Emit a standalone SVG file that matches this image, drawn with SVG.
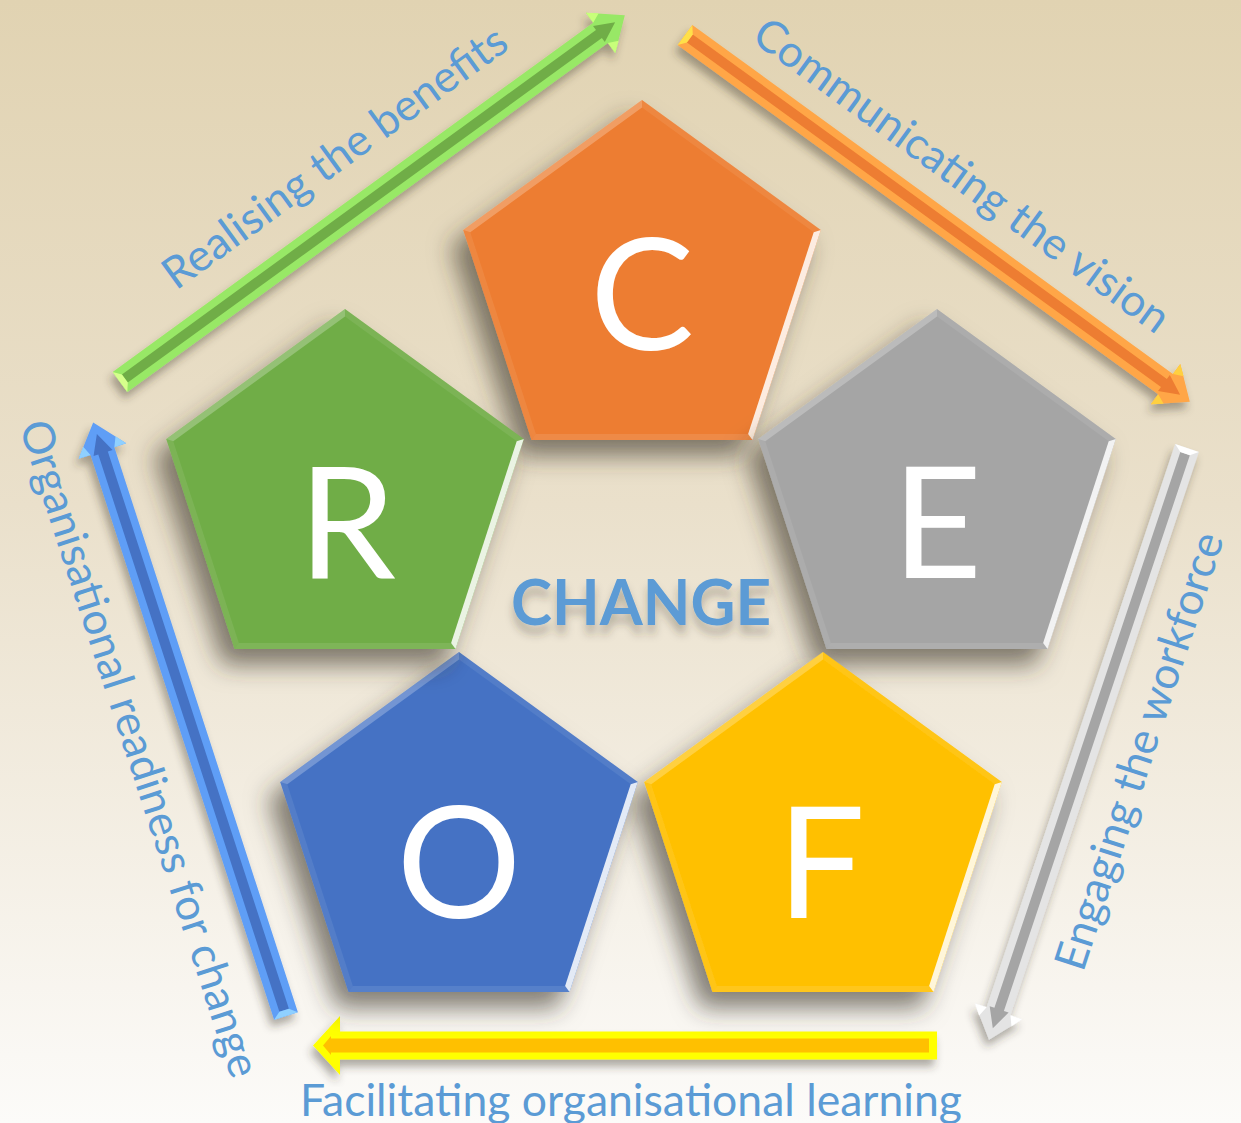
<svg xmlns="http://www.w3.org/2000/svg" width="1241" height="1123" viewBox="0 0 1241 1123">
<style>
.lbl{font-family:Lato,"Open Sans","Liberation Sans",sans-serif;font-size:44px;fill:#5B9BD5}
.letter{font-family:Lato,"Open Sans","Liberation Sans",sans-serif;font-size:156px;fill:#FFFFFF;text-anchor:middle}
.center{font-family:Lato,"Open Sans","Liberation Sans",sans-serif;font-weight:700;font-size:64px;fill:#5B9BD5;text-anchor:middle}
.hl-rl{fill:#FFFFFF;fill-opacity:0.85}
.hl-tl{fill:#FFFFFF;fill-opacity:0.25}
.hl-tr{fill:#FFFFFF;fill-opacity:0.08}
.hl-ll{fill:#FFFFFF;fill-opacity:0.08}
.hl-b{fill:#FFFFFF;fill-opacity:0.1}
</style>
<defs>
<linearGradient id="bg" x1="0" y1="0" x2="0" y2="1">
<stop offset="0" stop-color="#E1D3B2"/>
<stop offset="0.45" stop-color="#EAE0CB"/>
<stop offset="1" stop-color="#FCFBF9"/>
</linearGradient>
<filter id="pshadow" x="-30%" y="-30%" width="160%" height="160%">
<feGaussianBlur in="SourceAlpha" stdDeviation="12"/>
<feOffset dx="-12" dy="16" result="b"/>
<feFlood flood-color="#3a3428" flood-opacity="0.62"/>
<feComposite in2="b" operator="in"/>
<feMerge><feMergeNode/><feMergeNode in="SourceGraphic"/></feMerge>
</filter>
<filter id="ashadow" x="-20%" y="-20%" width="140%" height="140%">
<feGaussianBlur in="SourceAlpha" stdDeviation="4"/>
<feOffset dx="-3" dy="7" result="b"/>
<feFlood flood-color="#3a3428" flood-opacity="0.4"/>
<feComposite in2="b" operator="in"/>
<feMerge><feMergeNode/><feMergeNode in="SourceGraphic"/></feMerge>
</filter>
<filter id="tshadow" x="-20%" y="-40%" width="140%" height="180%">
<feGaussianBlur in="SourceAlpha" stdDeviation="4"/>
<feOffset dx="0" dy="9" result="b"/>
<feFlood flood-color="#3a3428" flood-opacity="0.3"/>
<feComposite in2="b" operator="in"/>
<feMerge><feMergeNode/><feMergeNode in="SourceGraphic"/></feMerge>
</filter>
<path id="pent" d="M0,-188 L178.8,-58.1 L110.5,152.1 L-110.5,152.1 L-178.8,-58.1 Z"/>
<path id="p-rl" d="M178.8,-58.1 L110.5,152.1 L106.1,146.1 L171.7,-55.8 Z"/>
<path id="p-tl" d="M-178.8,-58.1 L0,-188 L0,-180.6 L-171.7,-55.8 Z"/>
<path id="p-tr" d="M0,-188 L178.8,-58.1 L171.7,-55.8 L0,-180.6 Z"/>
<path id="p-ll" d="M-110.5,152.1 L-178.8,-58.1 L-171.7,-55.8 L-106.1,146.1 Z"/>
<path id="p-b" d="M110.5,152.1 L-110.5,152.1 L-106.1,146.1 L106.1,146.1 Z"/>
<path id="a-out" d="M0,-12.5 L594,-12.5 L594,-25 L624,0 L594,25 L594,12.5 L0,12.5 Z"/>
<path id="a-in" d="M6,-5 L592,-5 L592,-10 L612,0 L592,10 L592,5 L6,5 Z"/>
<path id="a-tail" d="M0,-12.5 L6,-5 L6,5 L0,12.5 Z"/>
<path id="a-head" d="M594,-25 L604,-17 L594,-12.5 Z M594,25 L604,17 L594,12.5 Z"/>
</defs>

<rect x="0" y="0" width="1241" height="1123" fill="url(#bg)"/>

<g id="connectors">
  <g id="arrow-realising" filter="url(#ashadow)">
    <g transform="translate(120,382) rotate(-36)">
      <use href="#a-out" fill="#98E866"/>
      <use href="#a-in" fill="#70AD47"/>
      <use href="#a-tail" fill="#D6FF8C"/>
      <use href="#a-head" fill="#C8FF7A"/>
    </g>
  </g>
  <text class="lbl" transform="translate(176,291) rotate(-36)" textLength="414" lengthAdjust="spacingAndGlyphs">Realising the benefits</text>

  <g id="arrow-communicating" filter="url(#ashadow)">
    <g transform="translate(685,35) rotate(36)">
      <use href="#a-out" fill="#FFA646"/>
      <use href="#a-in" fill="#ED7D31"/>
      <use href="#a-tail" fill="#FFE04A"/>
      <use href="#a-head" fill="#FFD040"/>
    </g>
  </g>
  <text class="lbl" transform="translate(750,40) rotate(36)" textLength="502" lengthAdjust="spacingAndGlyphs">Communicating the vision</text>

  <g id="arrow-engaging" filter="url(#ashadow)">
    <g transform="translate(1187,448) rotate(108.5)">
      <use href="#a-out" fill="#E4E4E4"/>
      <use href="#a-in" fill="#A5A5A5"/>
      <use href="#a-tail" fill="#FFFFFF"/>
      <use href="#a-head" fill="#FFFFFF"/>
    </g>
  </g>
  <text class="lbl" transform="translate(1083,973) rotate(-72)" textLength="457" lengthAdjust="spacingAndGlyphs">Engaging the workforce</text>

  <g id="arrow-facilitating" filter="url(#ashadow)">
    <path d="M937,1031.5 L340,1031.5 L340,1016 L313,1045.5 L340,1075 L340,1059.5 L937,1059.5 Z" fill="#FFFF00"/>
    <path d="M929,1038.5 L331,1038.5 L331,1036 L323,1045.5 L331,1055 L331,1052.5 L929,1052.5 Z" fill="#FFC000"/>
  </g>
  <text class="lbl" x="300" y="1116" textLength="662" lengthAdjust="spacingAndGlyphs">Facilitating organisational learning</text>

  <g id="arrow-organisational" filter="url(#ashadow)">
    <g transform="translate(286,1016) rotate(-108)">
      <use href="#a-out" fill="#5E9EF6"/>
      <use href="#a-in" fill="#4472C4"/>
      <use href="#a-tail" fill="#8FD0FF"/>
      <use href="#a-head" fill="#8FD0FF"/>
    </g>
  </g>
  <text class="lbl" transform="translate(19,426) rotate(72)" textLength="688" lengthAdjust="spacingAndGlyphs">Organisational readiness for change</text>
</g>

<g id="node-C" filter="url(#pshadow)">
  <g transform="translate(642,288)">
    <use href="#pent" fill="#ED7D31"/>
    <use href="#p-tl" class="hl-tl"/><use href="#p-tr" class="hl-tr"/><use href="#p-ll" class="hl-ll"/><use href="#p-b" class="hl-b"/><use href="#p-rl" class="hl-rl"/>
  </g>
  <text class="letter" x="642" y="350">C</text>
</g>

<g id="node-E" filter="url(#pshadow)">
  <g transform="translate(937,497)">
    <use href="#pent" fill="#A5A5A5"/>
    <use href="#p-tl" class="hl-tl"/><use href="#p-tr" class="hl-tr"/><use href="#p-ll" class="hl-ll"/><use href="#p-b" class="hl-b"/><use href="#p-rl" class="hl-rl"/>
  </g>
  <text class="letter" x="937" y="578">E</text>
</g>

<g id="node-F" filter="url(#pshadow)">
  <g transform="translate(823,840)">
    <use href="#pent" fill="#FFC000"/>
    <use href="#p-tl" class="hl-tl"/><use href="#p-tr" class="hl-tr"/><use href="#p-ll" class="hl-ll"/><use href="#p-b" class="hl-b"/><use href="#p-rl" class="hl-rl"/>
  </g>
  <text class="letter" x="821" y="918">F</text>
</g>

<g id="node-O" filter="url(#pshadow)">
  <g transform="translate(459,840)">
    <use href="#pent" fill="#4472C4"/>
    <use href="#p-tl" class="hl-tl"/><use href="#p-tr" class="hl-tr"/><use href="#p-ll" class="hl-ll"/><use href="#p-b" class="hl-b"/><use href="#p-rl" class="hl-rl"/>
  </g>
  <text class="letter" x="459" y="918">O</text>
</g>

<g id="node-R" filter="url(#pshadow)">
  <g transform="translate(345,497)">
    <use href="#pent" fill="#70AD47"/>
    <use href="#p-tl" class="hl-tl"/><use href="#p-tr" class="hl-tr"/><use href="#p-ll" class="hl-ll"/><use href="#p-b" class="hl-b"/><use href="#p-rl" class="hl-rl"/>
  </g>
  <text class="letter" x="347" y="578">R</text>
</g>

<g id="center-label" filter="url(#tshadow)">
  <text class="center" x="641" y="625" textLength="260" lengthAdjust="spacingAndGlyphs">CHANGE</text>
</g>
</svg>
